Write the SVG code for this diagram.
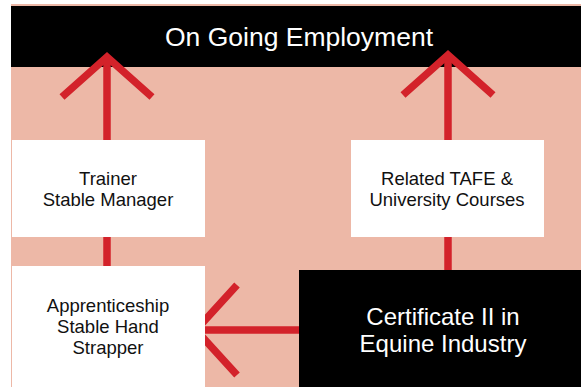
<svg xmlns="http://www.w3.org/2000/svg" width="581" height="387" viewBox="0 0 581 387">
  <style>
    .bg { fill: #EDB8A7; }
    .dark { fill: #000000; }
    .light { fill: #FFFFFF; }
    .wt { fill: #FFFFFF; font-family: "Liberation Sans", Arial, sans-serif; text-anchor: middle; }
    .bt { fill: #111111; font-family: "Liberation Sans", Arial, sans-serif; text-anchor: middle; font-size: 18.5px; }
    .conn { stroke: #D3222A; stroke-width: 7.5; fill: none; stroke-linecap: butt; stroke-linejoin: miter; }
  </style>
  <rect x="0" y="0" width="581" height="387" fill="#FFFFFF"/>
  <rect class="bg" x="11" y="4" width="570" height="383"/>

  <g id="connectors">
    <path class="conn" d="M107,266 V237"/>
    <path class="conn" d="M448,270 V237"/>
  </g>

  <g id="node-employment">
    <rect class="dark" x="11" y="6" width="570" height="61"/>
    <text class="wt" x="299" y="46" font-size="26.5">On Going Employment</text>
  </g>

  <g id="connectors-arrows">
    <path class="conn" d="M107,140 V58"/>
    <path class="conn" d="M62,97 L107,57 L152,97"/>
    <path class="conn" d="M448,140 V56"/>
    <path class="conn" d="M403,95 L448,55 L493,95"/>
    <path class="conn" d="M299,330 H198"/>
    <path class="conn" d="M237,285 L196,330 L237,375"/>
  </g>

  <g id="node-trainer">
    <rect class="light" x="12" y="140" width="193" height="97"/>
    <text class="bt" x="108" y="185">Trainer</text>
    <text class="bt" x="108" y="206">Stable Manager</text>
  </g>

  <g id="node-tafe">
    <rect class="light" x="351" y="140" width="193" height="97"/>
    <text class="bt" x="447" y="185">Related TAFE &amp;</text>
    <text class="bt" x="447" y="206">University Courses</text>
  </g>

  <g id="node-apprenticeship">
    <rect class="light" x="12" y="266" width="193" height="121"/>
    <text class="bt" x="108" y="312">Apprenticeship</text>
    <text class="bt" x="108" y="333">Stable Hand</text>
    <text class="bt" x="108" y="354">Strapper</text>
  </g>

  <g id="node-certificate">
    <rect class="dark" x="299" y="270" width="282" height="117"/>
    <text class="wt" x="443" y="325" font-size="24">Certificate II in</text>
    <text class="wt" x="443" y="352" font-size="24">Equine Industry</text>
  </g>
</svg>
